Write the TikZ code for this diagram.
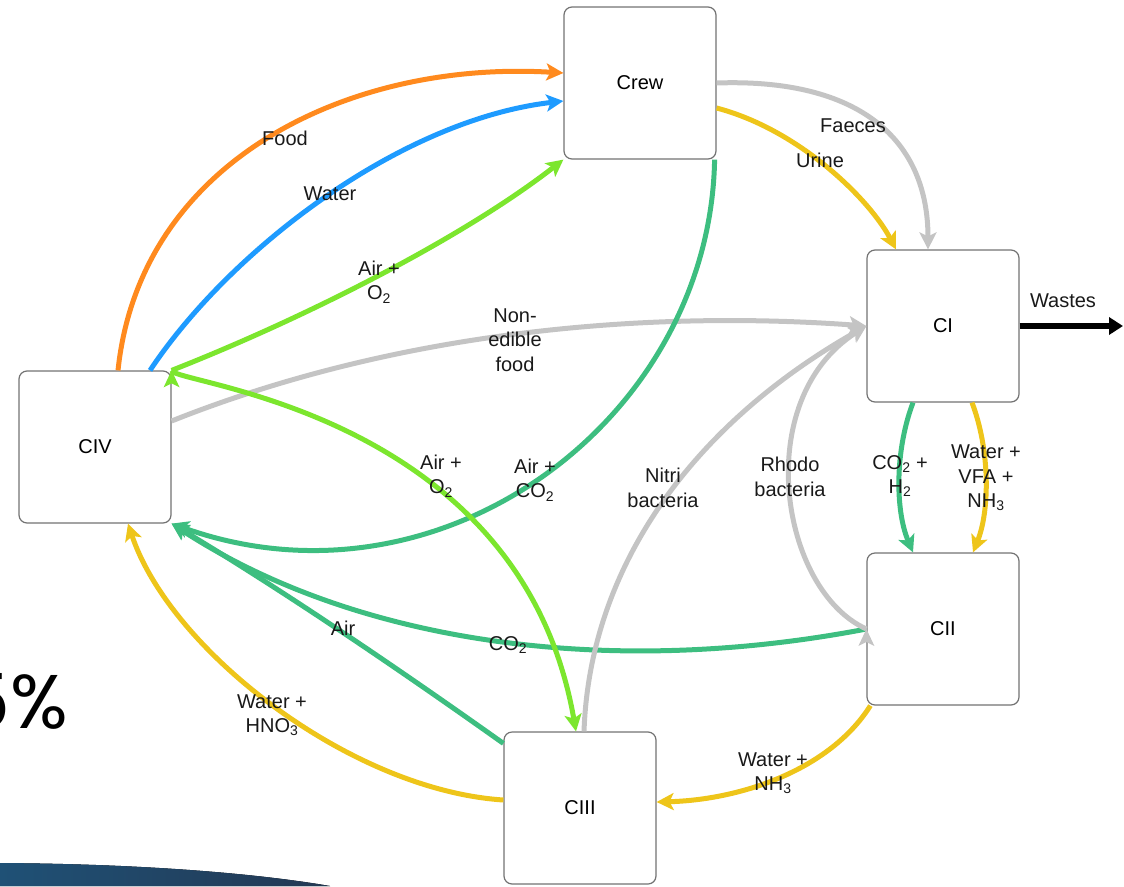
\documentclass[tikz,border=0pt]{standalone}
\usepackage{fontspec}
\setmainfont{Liberation Sans}
\newfontfamily\pctfont{Poppins}
\usetikzlibrary{arrows.meta,calc}
\definecolor{cfood}{HTML}{FF8A1E}
\definecolor{cwater}{HTML}{1E9BFF}
\definecolor{cair}{HTML}{7CE62E}
\definecolor{cgray}{HTML}{C4C4C4}
\definecolor{cyel}{HTML}{EEC51A}
\definecolor{cteal}{HTML}{3DBE80}
\definecolor{wavel}{HTML}{1F5176}
\definecolor{waver}{HTML}{233853}
\begin{document}
\begin{tikzpicture}[x=1pt,y=-1pt,
  font=\fontsize{20}{24.5}\selectfont,
  box/.style={draw=black!55, line width=1.2pt, fill=white, rounded corners=8pt,
    minimum width=152pt, minimum height=152pt, inner sep=0pt},
  flow/.style={line width=5pt, -{Stealth[length=17pt,width=17pt,inset=4pt]}},
  lbl/.style={align=center, inner sep=0pt, text=black!90}]

\useasboundingbox (0,0) rectangle (1124,886);

% slide background pieces
\fill[left color=wavel, right color=waver]
  (0,863) .. controls (150,864) and (260,874) .. (330,886) -- (0,886) -- cycle;
\node[anchor=base east, inner sep=0pt, font=\pctfont\fontsize{76}{80}\selectfont]
  (pct) at (68,728) {5\%};

% compartments
\node[box] (crew) at (640,83) {Crew};
\node[box] (ci) at (943,326) {CI};
\node[box] (cii) at (943,629) {CII};
\node[box] (ciii) at (580,808) {CIII};
\node[box] (civ) at (95,447) {CIV};
\coordinate (out) at (1123,326);

% flows
\draw[flow, cfood] ([xshift=23pt]civ.north) .. controls (140,160) and (350,60) .. ([yshift=10pt]crew.west);
\draw[flow, cwater] ([xshift=55pt]civ.north) .. controls (230,250) and (400,120) .. ([yshift=-18pt]crew.west);
\draw[flow, cair] (civ.north east) .. controls (300,320) and (460,240) .. (crew.south west);
\draw[flow, cgray] ([yshift=26pt]civ.east) .. controls (400,330) and (650,310) .. (ci.west);
\draw[flow, cteal] ([xshift=-2pt]crew.south east) .. controls (710,420) and (440,620) .. (civ.south east);
\draw[flow, cgray] (crew.east) .. controls (860,78) and (928,140) .. ([xshift=-15pt]ci.north);
\draw[flow, cyel] ([yshift=-25pt]crew.east) .. controls (800,130) and (870,200) .. ([xshift=-47pt]ci.north);
\draw[line width=6pt, -{Triangle[length=14pt,width=17pt]}] (ci.east) -- (out);
\draw[flow, cteal] ([xshift=-30pt]ci.south) .. controls (895,450) and (895,510) .. ([xshift=-30pt]cii.north);
\draw[flow, cyel] ([xshift=29pt]ci.south) .. controls (990,450) and (990,510) .. ([xshift=30pt]cii.north);
\draw[flow, cteal] (cii.west) .. controls (600,680) and (350,640) .. (civ.south east);
\draw[flow, cteal] ([yshift=-12pt]ciii.north west) .. controls (393,665) and (282,590) .. (civ.south east);
\draw[flow, cgray] ([xshift=4pt]ciii.north) .. controls (590,560) and (700,420) .. (ci.west);
\draw[flow, cgray] (cii.west) .. controls (780,590) and (750,400) .. (ci.west);
\draw[flow, cair] (civ.north east) .. controls (172,384) and (520,410) .. ([xshift=-4pt]ciii.north);
\draw[flow, cyel] ([xshift=4pt]cii.south west) .. controls (830,770) and (740,800) .. ([yshift=6pt]ciii.east);
\draw[flow, cyel] ([yshift=8pt]ciii.west) .. controls (350,790) and (170,650) .. ([xshift=33pt]civ.south);

% upward heads at the start of the two-way flows
\fill[cair] (civ.north east) -- ++(8,17) -- ++(-8,-4) -- ++(-8,4) -- cycle;
\fill[cgray] (cii.west) -- ++(8,17) -- ++(-8,-4) -- ++(-8,4) -- cycle;

% labels
\node[lbl] (lfood) at (285,138) {Food};
\node[lbl] (lwater) at (330,194) {Water};
\node[lbl] (lair1) at (379,282) {Air +\\O\textsubscript{2}};
\node[lbl] (lnon) at (515,340) {Non-\\edible\\food};
\node[lbl] (lair2) at (441,476) {Air +\\O\textsubscript{2}};
\node[lbl] (lair3) at (535,480) {Air +\\CO\textsubscript{2}};
\node[lbl] (lnitri) at (663,488) {Nitri\\bacteria};
\node[lbl] (lrhodo) at (790,477) {Rhodo\\bacteria};
\node[lbl] (lco2h2) at (900,476) {CO\textsubscript{2} +\\H\textsubscript{2}};
\node[lbl] (lvfa) at (986,478) {Water +\\VFA +\\NH\textsubscript{3}};
\node[lbl] (lfaeces) at (853,126) {Faeces};
\node[lbl] (lurine) at (820,160) {Urine};
\node[lbl] (lwastes) at (1063,301) {Wastes};
\node[lbl] (lairt) at (343,628) {Air};
\node[lbl] (lco2) at (508,645) {CO\textsubscript{2}};
\node[lbl] (lhno3) at (272,715) {Water +\\HNO\textsubscript{3}};
\node[lbl] (lnh3) at (773,773) {Water +\\NH\textsubscript{3}};
\end{tikzpicture}
\end{document}
